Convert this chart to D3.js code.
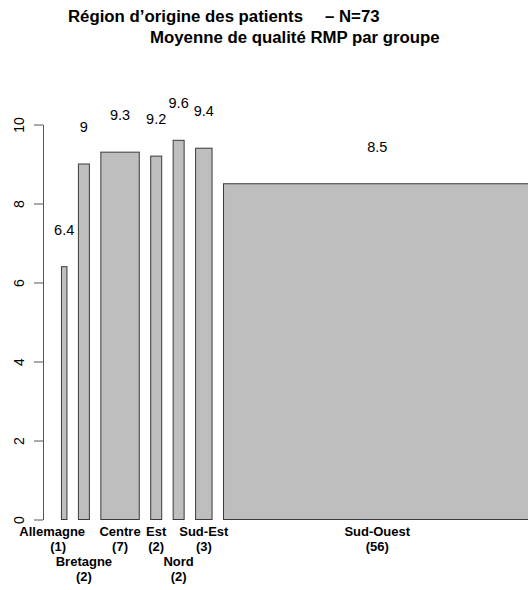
<!DOCTYPE html>
<html>
<head>
<meta charset="utf-8">
<script src="https://cdn.jsdelivr.net/npm/d3@7"></script>
<style>
  body { margin: 0; background: #fff; }
  svg { display: block; font-family: "Liberation Sans", Arial, Helvetica, sans-serif; }
</style>
</head>
<body>
<div id="chart"></div>
<script>
// Data
const regions = ["Allemagne", "Bretagne", "Centre", "Est", "Nord", "Sud-Est", "Sud-Ouest"];
const counts = [1, 2, 7, 2, 2, 3, 56];
const means = [6.4, 9, 9.3, 9.2, 9.6, 9.4, 8.5];
const yTicks = [0, 2, 4, 6, 8, 10];

(function () {
  const W = 528, H = 590;
  const svg = d3.select("#chart").append("svg")
    .attr("width", W)
    .attr("height", H);

  svg.append("rect").attr("width", W).attr("height", H).attr("fill", "#fff");

  // barplot-like layout: bar widths = counts, space = 0.2 * mean width
  const total = d3.sum(counts);
  const gap = 0.2 * total / counts.length;
  let acc = 0;
  const bars = regions.map((r, i) => {
    const left = gap * (i + 1) + acc;
    acc += counts[i];
    return { region: r, n: counts[i], mean: means[i], x0: left, x1: left + counts[i] };
  });

  const x = d3.scaleLinear()
    .domain([0, total + gap * counts.length])
    .range([50, 531]);

  const y = d3.scaleLinear()
    .domain([0, 10])
    .range([519.5, 124.5]);

  // Title
  const title = svg.append("g").attr("font-weight", "bold").attr("font-size", 16.8).attr("fill", "#000");
  title.append("text").attr("x", 68).attr("y", 22).text("Région d’origine des patients");
  title.append("text").attr("x", 325).attr("y", 22).text("– N=73");
  title.append("text").attr("x", 150).attr("y", 43).text("Moyenne de qualité RMP par groupe");

  // Bars
  svg.append("g")
    .selectAll("rect")
    .data(bars)
    .enter().append("rect")
    .attr("x", d => x(d.x0))
    .attr("y", d => y(d.mean))
    .attr("width", d => x(d.x1) - x(d.x0))
    .attr("height", d => y(0) - y(d.mean))
    .attr("fill", "#bebebe")
    .attr("stroke", "#3a3a3a")
    .attr("stroke-width", 1);

  // Value labels
  svg.append("g")
    .selectAll("text")
    .data(bars)
    .enter().append("text")
    .attr("x", d => x((d.x0 + d.x1) / 2))
    .attr("y", d => y(d.mean) - 32)
    .attr("text-anchor", "middle")
    .attr("font-size", 14.5)
    .attr("fill", "#000")
    .text(d => d.mean);

  // Y axis
  const yAxis = svg.append("g")
    .attr("transform", "translate(43,0)")
    .call(d3.axisLeft(y).tickValues(yTicks).tickSize(9).tickSizeOuter(0).tickFormat(d3.format("d")));
  yAxis.select(".domain").attr("stroke", "#555");
  yAxis.selectAll(".tick line").attr("stroke", "#555");
  yAxis.selectAll(".tick text")
    .attr("x", null).attr("y", null).attr("dy", null)
    .attr("transform", "translate(-19,0) rotate(-90)")
    .attr("text-anchor", "middle")
    .attr("font-size", 14)
    .attr("font-family", "\"Liberation Sans\", Arial, sans-serif")
    .attr("fill", "#000");

  // Category labels (narrow neighbours staggered on two rows)
  const rows = [0, 1, 0, 0, 1, 0, 0];
  const lab = svg.append("g")
    .attr("font-weight", "bold")
    .attr("font-size", 13)
    .attr("text-anchor", "middle")
    .attr("fill", "#000");
  bars.forEach((d, i) => {
    const cx = x((d.x0 + d.x1) / 2) + (i === 0 ? -12 : 0);
    const base = y(0) + 16.5 + rows[i] * 30;
    lab.append("text").attr("x", cx).attr("y", base).text(d.region);
    lab.append("text").attr("x", cx + (i === 0 ? 6 : 0)).attr("y", base + 14.5).text(`(${d.n})`);
  });
})();
</script>
</body>
</html>
